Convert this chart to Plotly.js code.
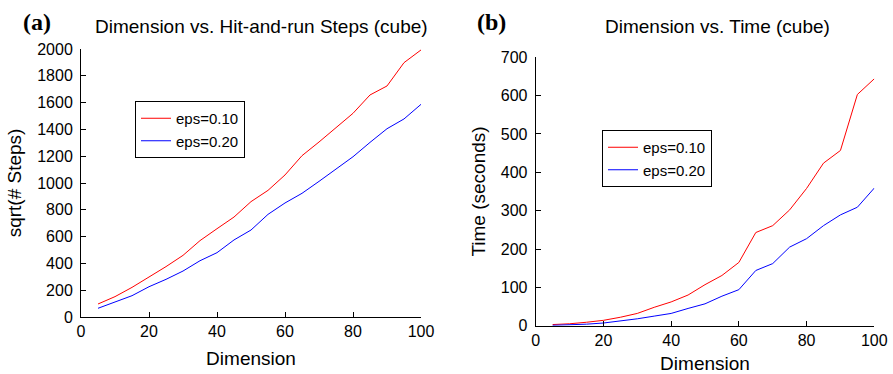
<!DOCTYPE html>
<html>
<head>
<meta charset="utf-8">
<script src="https://cdn.plot.ly/plotly-3.0.1.min.js"></script>
<style>html,body{margin:0;padding:0;background:#fff;}#chart{width:893px;height:374px;}</style>
</head>
<body>
<div id="chart"></div>
<script>
// ---- data ----
const dimension = [5,10,15,20,25,30,35,40,45,50,55,60,65,70,75,80,85,90,95,100];
const stepsEps010 = [97,152,221,298,376,460,570,659,746,861,945,1060,1204,1306,1410,1520,1657,1724,1898,1993];
const stepsEps020 = [65,112,159,226,281,343,420,480,575,649,766,851,923,1012,1107,1196,1303,1405,1478,1587];
const timeEps010 = [3,5,9,14,22,32,48,62,80,107,131,165,243,261,302,358,424,457,603,644];
const timeEps020 = [1,2,4,7,12,18,25,32,45,57,77,94,144,162,205,227,261,289,309,359];
const seriesNames = ["eps=0.10","eps=0.20"];
const xTicks = [0,20,40,60,80,100];
const yTicksLeft = [0,200,400,600,800,1000,1200,1400,1600,1800,2000];
const yTicksRight = [0,100,200,300,400,500,600,700];

const W = 893, H = 374;
const px = x => x / W;
const py = y => 1 - y / H;
const FONT = "Liberation Sans, Arial, Helvetica, sans-serif";
const RED = "#ff0000", BLUE = "#0000ff";

const traces = [
  {x: dimension, y: stepsEps010, name: seriesNames[0], mode: "lines", line: {color: RED, width: 1}, xaxis: "x", yaxis: "y", legend: "legend"},
  {x: dimension, y: stepsEps020, name: seriesNames[1], mode: "lines", line: {color: BLUE, width: 1}, xaxis: "x", yaxis: "y", legend: "legend"},
  {x: dimension, y: timeEps010, name: seriesNames[0], mode: "lines", line: {color: RED, width: 1}, xaxis: "x2", yaxis: "y2", legend: "legend2"},
  {x: dimension, y: timeEps020, name: seriesNames[1], mode: "lines", line: {color: BLUE, width: 1}, xaxis: "x2", yaxis: "y2", legend: "legend2"}
];

function axisBase(extra) {
  return Object.assign({
    showgrid: false, zeroline: false, showline: true, linecolor: "#000", linewidth: 1,
    ticks: "inside", ticklen: 5, tickcolor: "#000", tickwidth: 1, mirror: false,
    tickfont: {family: FONT, size: 16, color: "#000"}, fixedrange: true
  }, extra);
}

const legendBase = {
  bordercolor: "#000", borderwidth: 1, bgcolor: "#fff",
  font: {family: FONT, size: 15, color: "#000"},
  xanchor: "left", yanchor: "top", tracegroupgap: 0, itemwidth: 30
};

const layout = {
  width: W, height: H,
  margin: {l: 0, r: 0, t: 0, b: 0},
  paper_bgcolor: "#fff", plot_bgcolor: "#fff",
  showlegend: true,
  xaxis: axisBase({domain: [px(81), px(421)], range: [0, 100], tickvals: xTicks, anchor: "y",
    title: {text: "Dimension", font: {family: FONT, size: 19, color: "#000"}, standoff: 12}}),
  yaxis: axisBase({domain: [py(317), py(49)], range: [0, 2000], tickvals: yTicksLeft, anchor: "x", ticklabelstandoff: 4,
    title: {text: "sqrt(# Steps)", font: {family: FONT, size: 19, color: "#000"}, standoff: 10}}),
  xaxis2: axisBase({domain: [px(535.7), px(874.3)], range: [0, 100], tickvals: xTicks, anchor: "y2",
    title: {text: "Dimension", font: {family: FONT, size: 19, color: "#000"}, standoff: 12}}),
  yaxis2: axisBase({domain: [py(325.7), py(57.3)], range: [0, 700], tickvals: yTicksRight, anchor: "x2", ticklabelstandoff: 4,
    title: {text: "Time (seconds)", font: {family: FONT, size: 19, color: "#000"}, standoff: 10}}),
  legend: Object.assign({}, legendBase, {x: px(135), y: py(101)}),
  legend2: Object.assign({}, legendBase, {x: px(602), y: py(130)}),
  annotations: [
    {text: "Dimension vs. Hit-and-run Steps (cube)", xref: "paper", yref: "paper", x: px(261), y: py(27),
     xanchor: "center", yanchor: "middle", showarrow: false, font: {family: FONT, size: 19, color: "#000"}},
    {text: "Dimension vs. Time (cube)", xref: "paper", yref: "paper", x: px(717), y: py(27),
     xanchor: "center", yanchor: "middle", showarrow: false, font: {family: FONT, size: 19, color: "#000"}},
    {text: "<b>(a)</b>", xref: "paper", yref: "paper", x: px(21), y: py(22),
     xanchor: "left", yanchor: "middle", showarrow: false, font: {family: "Liberation Serif, Times New Roman, serif", size: 24, color: "#000"}},
    {text: "<b>(b)</b>", xref: "paper", yref: "paper", x: px(475), y: py(22),
     xanchor: "left", yanchor: "middle", showarrow: false, font: {family: "Liberation Serif, Times New Roman, serif", size: 24, color: "#000"}}
  ]
};

Plotly.newPlot("chart", traces, layout, {displayModeBar: false, staticPlot: true});
</script>
</body>
</html>
